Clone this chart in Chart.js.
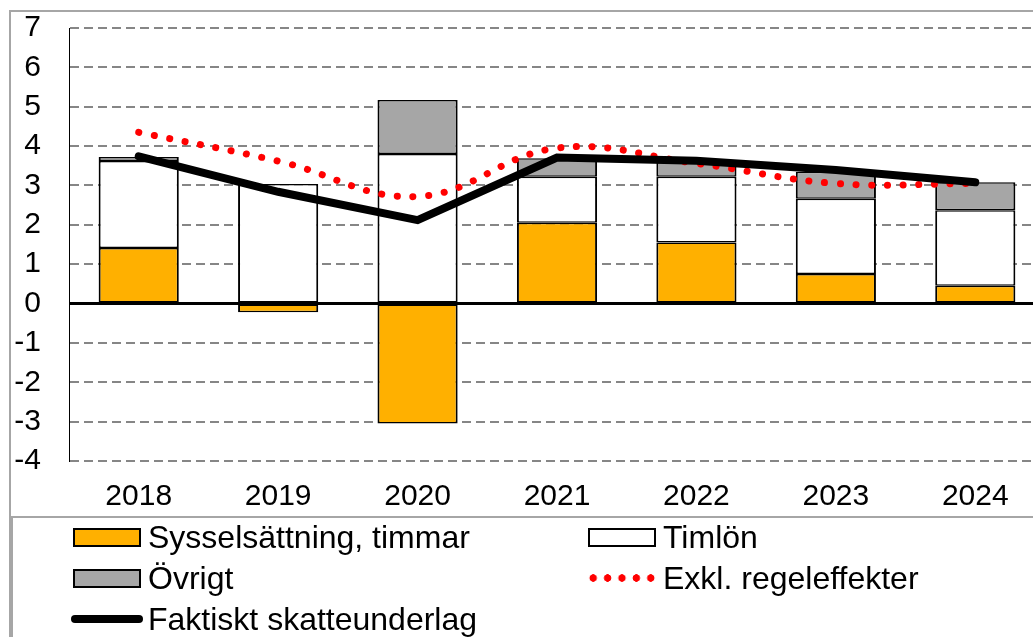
<!DOCTYPE html>
<html>
<head>
<meta charset="utf-8">
<script src="https://cdn.jsdelivr.net/npm/chart.js@4"></script>
<style>
  body { margin: 0; overflow: hidden; background: #fff; font-family: Arial, "Liberation Sans", sans-serif; }
  #wrap { position: relative; width: 1033px; height: 637px; overflow: hidden; }
  #grafico { position: absolute; left: 0; top: -18px; }
  .marco { position: absolute; border-color: #a6a6a6; border-style: solid; border-width: 0; }
  .item { position: absolute; display: flex; align-items: center; height: 40px; font-size: 32px; color: #000; white-space: nowrap; }
  .simbolo { box-sizing: border-box; width: 68px; height: 19px; border: 2px solid #000; margin-right: 7px; }
  .linea { width: 72px; height: 8px; border-radius: 4px; background: #000; margin-right: 5px; }
  .puntos { width: 72px; height: 8px; margin-right: 5px;
    background-image: radial-gradient(circle, #ff0000 3.5px, transparent 4px);
    background-size: 14.4px 8px; background-repeat: repeat-x; }
</style>
</head>
<body>
<div id="wrap">
  <canvas id="grafico" width="1045" height="535"></canvas>
  <div class="marco" style="left:9px;top:10px;width:1030px;height:640px;border-left-width:2px;border-top-width:2px;"></div>
  <div class="marco" style="left:11px;top:516px;width:1030px;height:130px;border-left-width:2px;border-top-width:2px;"></div>
  <div id="leyenda"></div>
</div>
<script>
// datos
let anios = ['2018', '2019', '2020', '2021', '2022', '2023', '2024'];
let sysselsattning = [1.41, -0.22, -3.05, 2.05, 1.55, 0.75, 0.45];
let timlon = [2.21, 3.04, 3.80, 1.17, 1.67, 1.91, 1.92];
let ovrigt = [0.10, 0.00, 1.37, 0.47, 0.38, 0.69, 0.71];
let faktiskt = [3.74, 2.84, 2.12, 3.71, 3.63, 3.39, 3.08];
let exkl = [4.35, 3.62, 2.72, 3.95, 3.56, 3.05, 3.05];

const fuente = { family: 'Arial, "Liberation Sans", sans-serif', size: 30 };

// linea negra en el cero
const lineaCero = {
  id: 'lineaCero',
  beforeDatasetsDraw(chart) {
    const { ctx, chartArea, scales } = chart;
    const y = scales.y.getPixelForValue(0);
    ctx.save();
    ctx.strokeStyle = '#000';
    ctx.lineWidth = 3;
    ctx.beginPath();
    ctx.moveTo(chartArea.left, y);
    ctx.lineTo(chartArea.right, y);
    ctx.stroke();
    ctx.restore();
  }
};

function crearGrafico() {
  let ctx = document.getElementById('grafico').getContext('2d');
  let barra = { type: 'bar', stack: 'barras', borderColor: '#000',
    borderWidth: { top: 1.5, bottom: 1.5, left: 2, right: 2 }, borderSkipped: false,
    barPercentage: 0.575, categoryPercentage: 1, order: 5 };

  return new Chart(ctx, {
    data: {
      labels: anios,
      datasets: [
        Object.assign({ label: 'Sysselsättning, timmar', data: sysselsattning, backgroundColor: '#ffb000' }, barra),
        Object.assign({ label: 'Timlön', data: timlon, backgroundColor: '#ffffff' }, barra),
        Object.assign({ label: 'Övrigt', data: ovrigt, backgroundColor: '#a6a6a6' }, barra),
        {
          type: 'line', label: 'Exkl. regeleffekter', data: exkl, stack: 'l2', order: 1,
          borderColor: '#ff0000', borderWidth: 7, borderDash: [0.1, 15.6], borderCapStyle: 'round',
          pointRadius: 0, tension: 0.4, fill: false
        },
        {
          type: 'line', label: 'Faktiskt skatteunderlag', data: faktiskt, stack: 'l1', order: 0,
          borderColor: '#000', borderWidth: 8, borderCapStyle: 'round', borderJoinStyle: 'miter',
          pointRadius: 0, tension: 0, fill: false
        }
      ]
    },
    options: {
      responsive: false,
      animation: false,
      layout: { padding: { left: 9, top: 10, right: 0, bottom: 0 } },
      plugins: { legend: { display: false }, tooltip: { enabled: false } },
      scales: {
        x: {
          stacked: true,
          grid: { display: false, drawTicks: false },
          border: { display: false },
          ticks: { color: '#000', font: fuente, padding: 18, maxRotation: 0 },
          afterFit(scale) { scale.height = 56; }
        },
        y: {
          stacked: true,
          min: -4,
          max: 7,
          ticks: { stepSize: 1, autoSkip: false, color: '#000', font: fuente, padding: 28 },
          grid: { color: '#868686', lineWidth: 2, drawTicks: false },
          border: { display: true, color: '#000', width: 1, dash: [9, 5] },
          afterFit(scale) { scale.width = 60; }
        }
      }
    },
    plugins: [lineaCero]
  });
}

function crearLeyenda() {
  let items = [
    { texto: 'Sysselsättning, timmar', x: 73, y: 517, tipo: 'simbolo', color: '#ffb000' },
    { texto: 'Timlön', x: 588, y: 517, tipo: 'simbolo', color: '#ffffff' },
    { texto: 'Övrigt', x: 73, y: 558, tipo: 'simbolo', color: '#a6a6a6' },
    { texto: 'Exkl. regeleffekter', x: 586, y: 558, tipo: 'puntos' },
    { texto: 'Faktiskt skatteunderlag', x: 71, y: 599, tipo: 'linea' }
  ];
  let leyenda = document.getElementById('leyenda');
  items.forEach(it => {
    let div = document.createElement('div');
    div.className = 'item';
    div.style.left = it.x + 'px';
    div.style.top = it.y + 'px';
    let sim = document.createElement('span');
    sim.className = it.tipo;
    if (it.color) sim.style.background = it.color;
    let txt = document.createElement('span');
    txt.textContent = it.texto;
    div.appendChild(sim);
    div.appendChild(txt);
    leyenda.appendChild(div);
  });
}

let grafico = crearGrafico();
crearLeyenda();
</script>
</body>
</html>
